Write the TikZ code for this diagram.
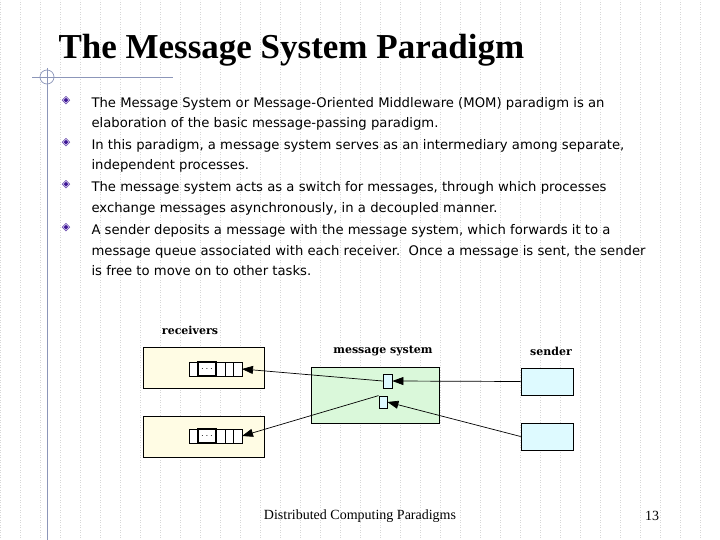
\documentclass[tikz,border=0pt]{standalone}
\usepackage{fontspec}
\setmainfont{Liberation Serif}
\newfontfamily\bodyfont{DejaVu Sans}
\newfontfamily\labfont{DejaVu Serif}
\usetikzlibrary{arrows.meta}
\definecolor{gridgray}{RGB}{215,215,215}
\definecolor{rulegray}{RGB}{140,150,185}
\definecolor{recvfill}{RGB}{255,252,228}
\definecolor{msgfill}{RGB}{218,248,218}
\definecolor{sendfill}{RGB}{222,250,255}
\definecolor{bulletcol}{RGB}{60,20,150}
\tikzset{
  bodyline/.style={anchor=base west, font=\bodyfont\fontsize{13.2}{15}\selectfont},
  boxlbl/.style={font=\labfont\bfseries\fontsize{11}{12}\selectfont},
  recv/.style={draw, fill=recvfill, line width=0.8pt},
  cell/.style={draw, line width=0.8pt, fill=white},
  slot/.style={draw, line width=0.8pt, fill=sendfill},
  link/.style={-{Triangle[length=11pt,width=8pt]}, line width=0.7pt}
}
\begin{document}
\begin{tikzpicture}[x=1pt, y=-1pt]
  \useasboundingbox (0,0) rectangle (720,540);
  % grille de fond
  \draw[gridgray, dotted, line width=0.5pt] (0,0) grid[step=20] (720,540);

  % titre
  \node[anchor=base west, font=\bfseries\fontsize{35}{38}\selectfont] (title) at (55,59) {The Message System Paradigm};
  \draw[rulegray, line width=0.7pt] (32,77) -- (173,77);
  \draw[rulegray, line width=0.7pt] (47,68) -- (47,540);
  \draw[rulegray, line width=0.7pt] (47,77) circle (7);

  % texte
  \foreach \y in {104,146,188,231}
    \node[bulletcol, font=\bodyfont\fontsize{11}{11}\selectfont] at (66,\y-3) {◈};
  \node[bodyline] (l1) at (88,108) {The Message System or Message-Oriented Middleware (MOM) paradigm is an};
  \node[bodyline] (l2) at (88,128) {elaboration of the basic message-passing paradigm.};
  \node[bodyline] (l3) at (88,150) {In this paradigm, a message system serves as an intermediary among separate,};
  \node[bodyline] (l4) at (88,170) {independent processes.};
  \node[bodyline] (l5) at (88,192) {The message system acts as a switch for messages, through which processes};
  \node[bodyline] (l6) at (88,212) {exchange messages asynchronously, in a decoupled manner.};
  \node[bodyline] (l7) at (88,235) {A sender deposits a message with the message system, which forwards it to a};
  \node[bodyline] (l8) at (88,255) {message queue associated with each receiver.\ \ Once a message is sent, the sender};
  \node[bodyline] (l9) at (88,275) {is free to move on to other tasks.};

  % receveurs
  \node[boxlbl] (reclbl) at (190,330) {receivers};
  \draw[recv] (143,347) rectangle (264,388);
  \draw[recv] (143,416) rectangle (264,457);
  \foreach \t/\n in {362/a,429/b} {
    \draw[cell] (189,\t) rectangle (242,\t+14);
    \foreach \x in {198,216,225,233} \draw[line width=0.8pt] (\x,\t) -- (\x,\t+14);
    \draw[line width=1.4pt] (198,\t) rectangle (216,\t+14);
    \node[inner sep=0] at (207,\t+7) {$\cdots$};
    \coordinate (q\n) at (242,\t+7);
  }

  % systeme de messages
  \node[boxlbl] (msglbl) at (383,351) {message system};
  \draw[fill=msgfill, line width=0.8pt] (311,367) rectangle (439,423);
  \node[slot, minimum width=9pt, minimum height=14pt, inner sep=0] (s1) at (387.5,381) {};
  \node[slot, minimum width=8pt, minimum height=12pt, inner sep=0] (s2) at (383,402) {};

  % emetteurs
  \node[boxlbl] (sndlbl) at (551,351) {sender};
  \node[slot, minimum width=52pt, minimum height=27pt] (p1) at (547,381.5) {};
  \node[slot, minimum width=52pt, minimum height=27pt] (p2) at (547,436.5) {};

  % fleches
  \draw[link] (p1.west) -- (s1.east);
  \draw[link] (p2.west) -- (s2.east);
  \draw[link] (s1.west) -- (qa);
  \draw[link] (s2.north west) -- (qb);

  % pied de page
  \node[font=\fontsize{14}{16}\selectfont] (foot) at (360,516) {Distributed Computing Paradigms};
  \node[font=\fontsize{14}{16}\selectfont] (page) at (652,516) {13};
\end{tikzpicture}
\end{document}
